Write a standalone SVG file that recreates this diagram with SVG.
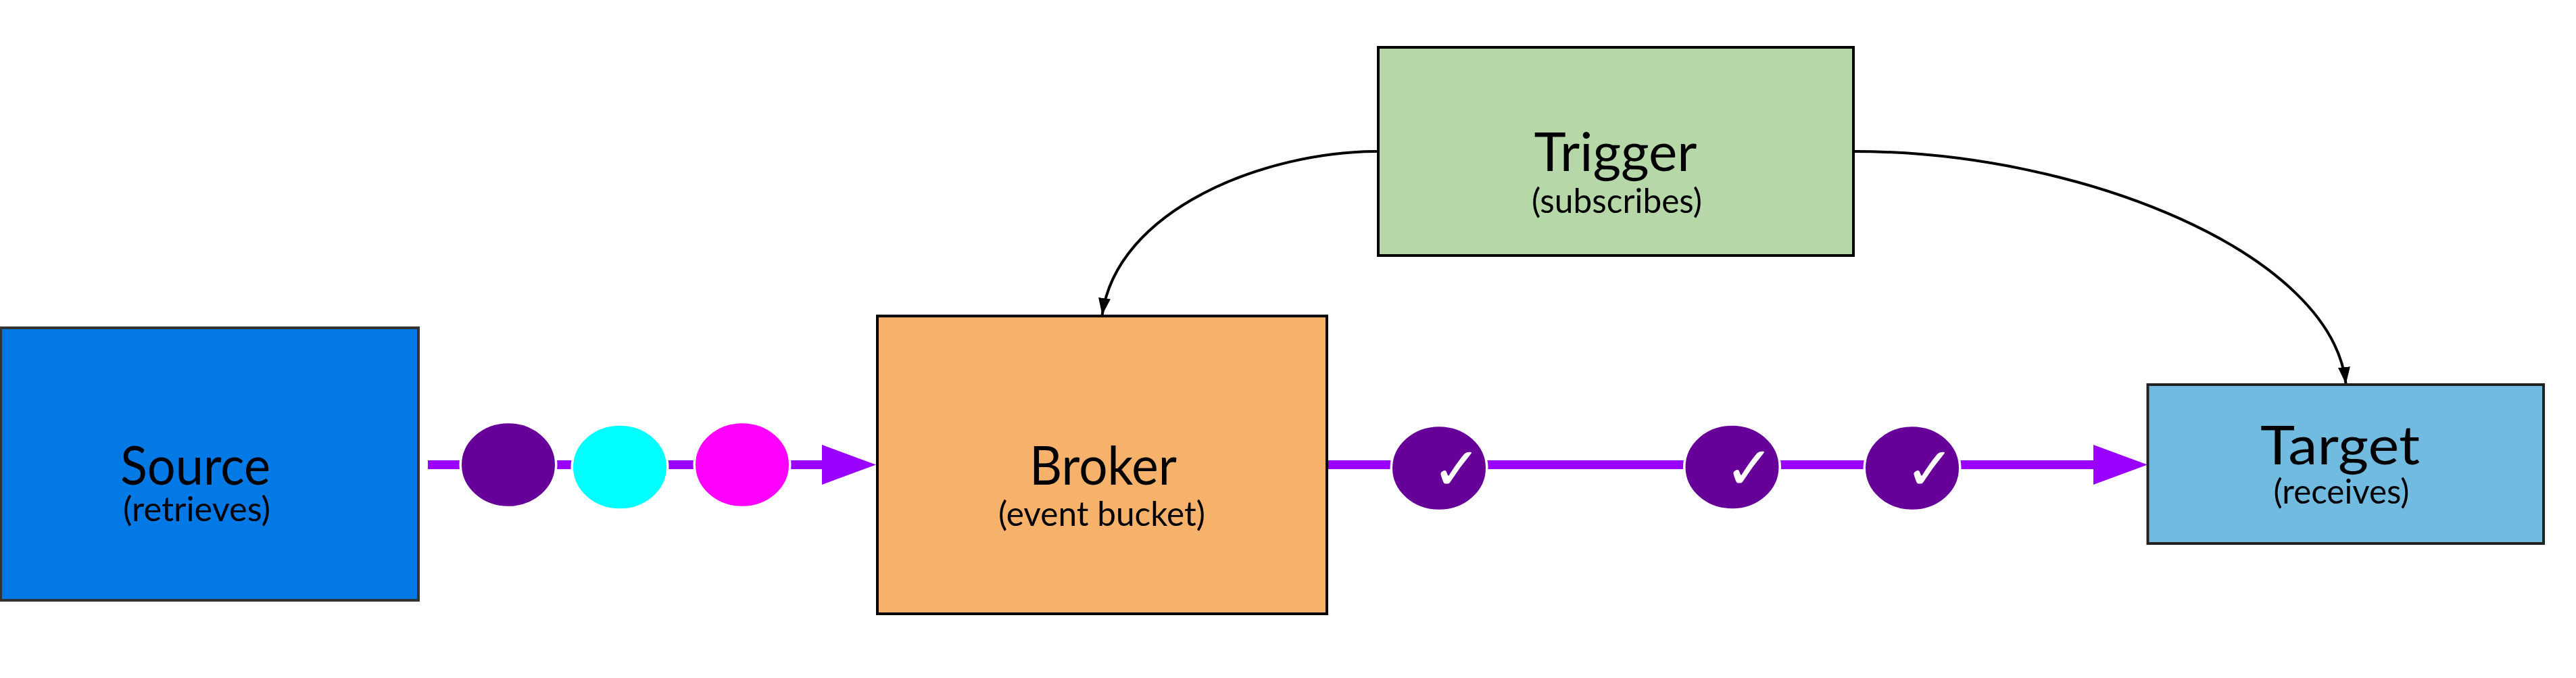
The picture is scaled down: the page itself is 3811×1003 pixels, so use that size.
<svg xmlns="http://www.w3.org/2000/svg" width="3811" height="1003" viewBox="0 0 3811 1003">
<style>
.box{stroke-width:4}
.t{font-family:Lato,"Open Sans",sans-serif;text-anchor:middle;fill:#000}
.m{font-size:79px}
.s{font-size:50px}
.flow{fill:none;stroke:#9900ff;stroke-width:13;marker-end:url(#big)}
.sig{fill:none;stroke:#000;stroke-width:4;marker-end:url(#small)}
.ev{stroke:#fff;stroke-width:3.5}
.ck{font-family:"DejaVu Sans",sans-serif;font-size:88px;fill:#fff;text-anchor:middle;font-weight:bold}
</style>
<defs>
<marker id="big" markerUnits="userSpaceOnUse" refX="0" refY="30" markerWidth="80" markerHeight="60" orient="auto"><path d="M0 0.5L80 30L0 59.5Z" fill="#9900ff"/></marker>
<marker id="small" markerUnits="userSpaceOnUse" refX="25" refY="9" markerWidth="25" markerHeight="18" orient="auto"><path d="M0 0L25 9L0 18Z" fill="#000"/></marker>
</defs>
<rect width="3811" height="1003" fill="#fff"/>
<g id="connectors">
<path class="flow" d="M633 687.5H1216"/>
<path class="flow" d="M1964 687.5H3097"/>
<path class="sig" d="M2038 224C1870 224 1652 310 1630.6 466"/>
<path class="sig" d="M2743 224C3080 224 3450 375 3470.6 568"/>
</g>
<g id="source"><rect class="box" x="1" y="485" width="618" height="403" fill="#0279e5" stroke="#333"/>
<text class="t m" x="289" y="717" textLength="222" lengthAdjust="spacingAndGlyphs">Source</text><text class="t s" x="291" y="771" textLength="218" lengthAdjust="spacingAndGlyphs">(retrieves)</text></g>
<g id="broker"><rect class="box" x="1298" y="467.500" width="665" height="440.500" fill="#f6b26b" stroke="#000"/>
<text class="t m" x="1632" y="717" textLength="218" lengthAdjust="spacingAndGlyphs">Broker</text><text class="t s" x="1630" y="778" textLength="306" lengthAdjust="spacingAndGlyphs">(event bucket)</text></g>
<g id="trigger"><rect class="box" x="2039" y="70" width="703" height="308" fill="#b6d7a8" stroke="#000"/>
<text class="t m" x="2390" y="253" textLength="241" lengthAdjust="spacingAndGlyphs">Trigger</text><text class="t s" x="2392" y="315" textLength="252" lengthAdjust="spacingAndGlyphs">(subscribes)</text></g>
<g id="target"><rect class="box" x="3177.500" y="569" width="585.500" height="235" fill="#72bbe0" stroke="#222"/>
<text class="t m" x="3462" y="687" textLength="236" lengthAdjust="spacingAndGlyphs">Target</text><text class="t s" x="3464" y="745" textLength="201" lengthAdjust="spacingAndGlyphs">(receives)</text></g>
<g id="event-1"><ellipse class="ev" cx="752" cy="687.5" rx="70.75" ry="63" fill="#660099"/></g>
<g id="event-2"><ellipse class="ev" cx="917" cy="691" rx="70.75" ry="63" fill="#00ffff"/></g>
<g id="event-3"><ellipse class="ev" cx="1098" cy="687.5" rx="70.75" ry="63" fill="#ff00ff"/></g>
<g id="delivered-1"><ellipse class="ev" cx="2129" cy="692.5" rx="70.75" ry="63" fill="#660099"/><text class="ck" x="2155" y="724">✓</text></g>
<g id="delivered-2"><ellipse class="ev" cx="2562.5" cy="691" rx="70.75" ry="63" fill="#660099"/><text class="ck" x="2588" y="723">✓</text></g>
<g id="delivered-3"><ellipse class="ev" cx="2829" cy="692.5" rx="70.75" ry="63" fill="#660099"/><text class="ck" x="2855" y="724">✓</text></g>
</svg>
